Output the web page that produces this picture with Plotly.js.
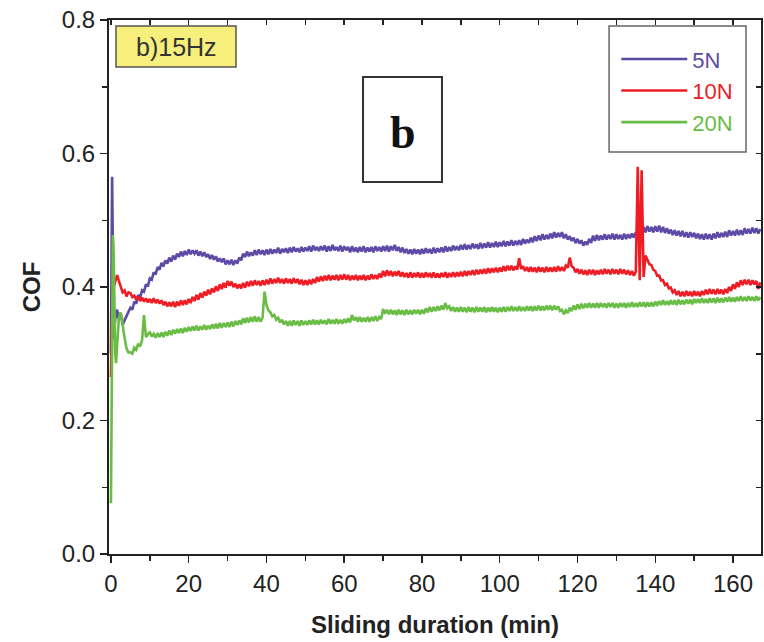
<!DOCTYPE html>
<html>
<head>
<meta charset="utf-8">
<script src="https://cdn.plot.ly/plotly-3.0.1.min.js"></script>
<style>html,body{margin:0;padding:0;background:#fff;}#chart{width:764px;height:642px;}</style>
</head>
<body>
<div id="chart"></div>
<script>
// ---- data ----
const seriesNames = ["5N", "10N", "20N"];
const seriesColors = ["#5d4aa6", "#ee1c25", "#69bd45"];

// running-in (first minutes) sampled finely, per series
const tStart5N = [0,0.15,0.3,0.45,0.6,0.8,1.0,1.3,1.6,2.0,2.5,3.0,3.5,4.0,4.5];
const cofStart5N = [0.300,0.450,0.565,0.480,0.330,0.322,0.345,0.362,0.366,0.352,0.361,0.343,0.350,0.356,0.362];
const tStart10N = [0,0.2,0.4,0.7,1.0,1.3,1.6,2.0,2.5,3,3.5,4,4.5];
const cofStart10N = [0.265,0.330,0.395,0.400,0.405,0.412,0.418,0.410,0.402,0.392,0.395,0.386,0.392];
const tStart20N = [0,0.15,0.3,0.5,0.7,0.9,1.1,1.3,1.6,2.0,2.4,2.8,3.2,3.6,4.0,4.5];
const cofStart20N = [0.076,0.200,0.350,0.478,0.450,0.360,0.300,0.286,0.320,0.350,0.362,0.355,0.335,0.318,0.308,0.302];

// common time grid (min) after running-in
const tGrid = [
 5,5.5,6,6.5,7,7.5,8,8.5,9,9.5, 10,10.5,11,11.5,12,12.5,13,13.5,14,14.5,
 15,15.5,16,16.5,17,17.5,18,18.5,19,19.5, 20,20.5,21,21.5,22,22.5,23,23.5,24,24.5,
 25,25.5,26,26.5,27,27.5,28,28.5,29,29.5, 30,30.5,31,31.5,32,32.5,33,33.5,34,34.5,
 35,35.5,36,36.5,37,37.5,38,38.5,39,39.5, 40,40.5,41,41.5,42,42.5,43,43.5,44,44.5,
 45,45.5,46,46.5,47,47.5,48,48.5,49,49.5, 50,50.5,51,51.5,52,52.5,53,53.5,54,54.5,
 55,55.5,56,56.5,57,57.5,58,58.5,59,59.5, 60,60.5,61,61.5,62,62.5,63,63.5,64,64.5,
 65,65.5,66,66.5,67,67.5,68,68.5,69,69.5, 70,70.5,71,71.5,72,72.5,73,73.5,74,74.5,
 75,75.5,76,76.5,77,77.5,78,78.5,79,79.5, 80,80.5,81,81.5,82,82.5,83,83.5,84,84.5,
 85,85.5,86,86.5,87,87.5,88,88.5,89,89.5, 90,90.5,91,91.5,92,92.5,93,93.5,94,94.5,
 95,95.5,96,96.5,97,97.5,98,98.5,99,99.5, 100,100.5,101,101.5,102,102.5,103,103.5,104,104.5,
 105,105.5,106,106.5,107,107.5,108,108.5,109,109.5, 110,110.5,111,111.5,112,112.5,113,113.5,114,114.5,
 115,115.5,116,116.5,117,117.5,118,118.5,119,119.5, 120,120.5,121,121.5,122,122.5,123,123.5,124,124.5,
 125,125.5,126,126.5,127,127.5,128,128.5,129,129.5, 130,130.5,131,131.5,132,132.5,133,133.5,134,134.5,
 135,135.5,136,136.5,137,137.5,138,138.5,139,139.5, 140,140.5,141,141.5,142,142.5,143,143.5,144,144.5,
 145,145.5,146,146.5,147,147.5,148,148.5,149,149.5, 150,150.5,151,151.5,152,152.5,153,153.5,154,154.5,
 155,155.5,156,156.5,157,157.5,158,158.5,159,159.5, 160,160.5,161,161.5,162,162.5,163,163.5,164,164.5,
 165,165.5,166,166.5,167];

const cof5N = [
 0.369,0.366,0.378,0.375,0.388,0.384,0.395,0.393,0.404,0.401, 0.413,0.411,0.422,0.419,0.430,0.426,0.436,0.431,0.440,0.435,
 0.444,0.438,0.447,0.441,0.450,0.445,0.453,0.446,0.454,0.448, 0.456,0.449,0.455,0.450,0.455,0.447,0.453,0.446,0.452,0.445,
 0.449,0.442,0.448,0.441,0.446,0.438,0.443,0.437,0.443,0.434, 0.440,0.434,0.441,0.433,0.440,0.435,0.444,0.440,0.450,0.445,
 0.453,0.446,0.452,0.447,0.455,0.448,0.456,0.449,0.455,0.448, 0.456,0.449,0.457,0.450,0.456,0.451,0.459,0.450,0.457,0.452,
 0.458,0.451,0.459,0.452,0.460,0.453,0.458,0.452,0.460,0.453, 0.459,0.454,0.461,0.453,0.462,0.455,0.460,0.454,0.461,0.455,
 0.462,0.453,0.461,0.454,0.463,0.455,0.460,0.454,0.462,0.453, 0.461,0.455,0.460,0.452,0.461,0.453,0.459,0.452,0.460,0.453,
 0.461,0.452,0.459,0.453,0.460,0.452,0.461,0.454,0.460,0.453, 0.461,0.454,0.462,0.453,0.461,0.455,0.463,0.454,0.460,0.452,
 0.459,0.451,0.457,0.450,0.456,0.449,0.457,0.450,0.456,0.449, 0.457,0.450,0.458,0.451,0.457,0.450,0.459,0.451,0.458,0.452,
 0.459,0.452,0.461,0.453,0.460,0.454,0.462,0.455,0.461,0.455, 0.463,0.456,0.464,0.456,0.463,0.457,0.465,0.458,0.464,0.457,
 0.466,0.458,0.465,0.459,0.467,0.459,0.466,0.460,0.468,0.460, 0.467,0.461,0.469,0.461,0.468,0.462,0.470,0.462,0.469,0.463,
 0.470,0.463,0.472,0.465,0.471,0.466,0.474,0.467,0.476,0.469, 0.477,0.470,0.479,0.471,0.478,0.472,0.480,0.473,0.482,0.474,
 0.481,0.475,0.482,0.473,0.479,0.471,0.476,0.469,0.474,0.466, 0.472,0.465,0.470,0.462,0.468,0.463,0.472,0.466,0.477,0.469,
 0.478,0.470,0.477,0.471,0.479,0.471,0.478,0.472,0.480,0.471, 0.479,0.472,0.478,0.471,0.480,0.472,0.479,0.473,0.480,0.474,
 0.482,0.476,0.487,0.481,0.490,0.482,0.491,0.483,0.490,0.482, 0.491,0.483,0.492,0.482,0.490,0.481,0.488,0.480,0.486,0.478,
 0.485,0.477,0.484,0.476,0.484,0.475,0.482,0.474,0.482,0.475, 0.481,0.473,0.480,0.472,0.479,0.471,0.480,0.472,0.479,0.471,
 0.480,0.473,0.482,0.474,0.481,0.475,0.483,0.475,0.485,0.477, 0.484,0.477,0.486,0.478,0.485,0.478,0.488,0.480,0.487,0.480,
 0.489,0.481,0.488,0.480,0.487];

const cof10N = [
 0.391,0.385,0.387,0.381,0.386,0.379,0.384,0.378,0.383,0.377, 0.382,0.376,0.383,0.376,0.381,0.375,0.380,0.373,0.378,0.371,
 0.377,0.371,0.378,0.370,0.378,0.372,0.380,0.373,0.380,0.374, 0.382,0.376,0.385,0.379,0.388,0.381,0.391,0.384,0.393,0.387,
 0.396,0.389,0.398,0.392,0.401,0.394,0.404,0.397,0.406,0.399, 0.409,0.402,0.408,0.400,0.405,0.398,0.404,0.398,0.406,0.399,
 0.408,0.401,0.409,0.402,0.410,0.403,0.409,0.402,0.410,0.403, 0.411,0.404,0.413,0.405,0.412,0.406,0.414,0.406,0.412,0.405,
 0.413,0.406,0.412,0.405,0.413,0.406,0.412,0.404,0.411,0.403, 0.410,0.403,0.411,0.404,0.412,0.406,0.415,0.408,0.416,0.409,
 0.417,0.410,0.418,0.410,0.417,0.411,0.418,0.410,0.418,0.411, 0.419,0.411,0.418,0.410,0.417,0.411,0.418,0.410,0.417,0.411,
 0.418,0.410,0.417,0.411,0.419,0.412,0.418,0.412,0.420,0.414, 0.424,0.416,0.425,0.417,0.424,0.416,0.423,0.417,0.424,0.416,
 0.422,0.415,0.421,0.414,0.422,0.414,0.421,0.415,0.422,0.414, 0.421,0.414,0.422,0.415,0.421,0.414,0.422,0.414,0.420,0.414,
 0.421,0.415,0.422,0.414,0.421,0.415,0.422,0.415,0.422,0.416, 0.423,0.416,0.424,0.417,0.424,0.418,0.425,0.418,0.426,0.419,
 0.426,0.420,0.427,0.420,0.428,0.421,0.428,0.422,0.429,0.422, 0.429,0.423,0.431,0.424,0.432,0.425,0.432,0.425,0.431,0.426,
 0.443,0.427,0.431,0.424,0.430,0.423,0.430,0.423,0.429,0.422, 0.430,0.423,0.429,0.422,0.430,0.423,0.429,0.423,0.430,0.423,
 0.431,0.424,0.430,0.424,0.432,0.429,0.444,0.431,0.429,0.422, 0.427,0.420,0.426,0.419,0.425,0.418,0.426,0.419,0.426,0.418,
 0.425,0.419,0.426,0.419,0.427,0.420,0.426,0.419,0.427,0.420, 0.426,0.419,0.427,0.420,0.426,0.419,0.425,0.418,0.424,0.417,
 0.423,0.580,0.410,0.575,0.415,0.447,0.441,0.434,0.433,0.426, 0.424,0.417,0.417,0.410,0.410,0.403,0.405,0.398,0.399,0.392,
 0.395,0.388,0.394,0.386,0.393,0.386,0.394,0.387,0.393,0.386, 0.394,0.387,0.393,0.386,0.394,0.388,0.396,0.389,0.397,0.390,
 0.396,0.389,0.397,0.390,0.396,0.389,0.397,0.391,0.400,0.394, 0.404,0.397,0.407,0.400,0.410,0.403,0.411,0.404,0.411,0.403,
 0.410,0.404,0.409,0.397,0.407];

const cof20N = [
 0.302,0.300,0.309,0.306,0.315,0.311,0.320,0.358,0.325,0.329, 0.333,0.326,0.330,0.324,0.331,0.325,0.332,0.325,0.333,0.327,
 0.335,0.328,0.336,0.330,0.337,0.331,0.338,0.331,0.339,0.333, 0.340,0.334,0.341,0.335,0.342,0.335,0.341,0.336,0.343,0.336,
 0.342,0.337,0.344,0.338,0.345,0.338,0.346,0.339,0.346,0.340, 0.347,0.340,0.348,0.341,0.349,0.343,0.350,0.344,0.353,0.346,
 0.354,0.347,0.355,0.348,0.356,0.348,0.355,0.348,0.354,0.393, 0.373,0.365,0.362,0.356,0.358,0.351,0.354,0.347,0.351,0.344,
 0.349,0.342,0.349,0.342,0.350,0.343,0.349,0.342,0.350,0.343, 0.349,0.343,0.350,0.344,0.351,0.344,0.350,0.344,0.351,0.345,
 0.350,0.344,0.352,0.345,0.351,0.345,0.352,0.345,0.351,0.345, 0.352,0.346,0.353,0.347,0.358,0.350,0.355,0.348,0.355,0.348,
 0.354,0.348,0.355,0.348,0.355,0.349,0.356,0.349,0.355,0.352, 0.367,0.360,0.366,0.359,0.366,0.359,0.365,0.358,0.366,0.359,
 0.365,0.358,0.366,0.359,0.365,0.359,0.366,0.360,0.366,0.359, 0.366,0.360,0.368,0.362,0.370,0.363,0.370,0.364,0.371,0.365,
 0.372,0.366,0.376,0.368,0.371,0.364,0.370,0.363,0.369,0.363, 0.370,0.363,0.369,0.362,0.370,0.363,0.369,0.362,0.370,0.363,
 0.369,0.363,0.370,0.362,0.369,0.363,0.370,0.363,0.369,0.362, 0.369,0.363,0.370,0.363,0.370,0.364,0.371,0.364,0.370,0.364,
 0.371,0.364,0.370,0.364,0.371,0.365,0.371,0.364,0.371,0.365, 0.372,0.365,0.371,0.365,0.372,0.366,0.372,0.365,0.372,0.366,
 0.371,0.364,0.366,0.359,0.365,0.361,0.369,0.364,0.372,0.366, 0.374,0.367,0.375,0.368,0.375,0.369,0.376,0.369,0.375,0.369,
 0.376,0.369,0.376,0.370,0.375,0.369,0.376,0.370,0.376,0.369, 0.375,0.369,0.376,0.370,0.376,0.369,0.376,0.370,0.377,0.370,
 0.376,0.370,0.377,0.371,0.377,0.370,0.377,0.371,0.377,0.371, 0.378,0.372,0.379,0.373,0.380,0.373,0.379,0.373,0.380,0.374,
 0.380,0.373,0.381,0.374,0.380,0.374,0.381,0.375,0.381,0.374, 0.382,0.376,0.382,0.376,0.383,0.376,0.382,0.376,0.383,0.377,
 0.383,0.376,0.384,0.377,0.383,0.377,0.384,0.378,0.385,0.378, 0.384,0.378,0.385,0.379,0.386,0.379,0.385,0.379,0.386,0.380,
 0.385,0.379,0.386,0.380,0.385];

const xTickVals = [0,20,40,60,80,100,120,140,160];
const yTickVals = [0.0,0.2,0.4,0.6,0.8];
const xTitle = "Sliding duration (min)";
const yTitle = "COF";
const panelLabel = "b)15Hz";
const bigLabel = "b";

// ---- traces ----
const xs = [tStart5N.concat(tGrid), tStart10N.concat(tGrid), tStart20N.concat(tGrid)];
const ys = [cofStart5N.concat(cof5N), cofStart10N.concat(cof10N), cofStart20N.concat(cof20N)];
const traces = xs.map((x, i) => ({
  type: "scatter", mode: "lines", x: x, y: ys[i],
  name: '<span style="color:' + seriesColors[i] + '">' + seriesNames[i] + '</span>',
  line: {color: seriesColors[i], width: 2.6},
  showlegend: true
}));
// empty trace that carries the inside tick marks on the top and right frame
traces.push({type: "scatter", mode: "lines", x: [], y: [], xaxis: "x2", yaxis: "y2", showlegend: false, hoverinfo: "skip"});

const FONT = "Arial, 'Liberation Sans', sans-serif";
const xr = [-0.5, 167.2];
const yr = [0, 0.8];

const layout = {
  width: 764, height: 642,
  margin: {l: 109, r: 3, t: 20, b: 88},
  paper_bgcolor: "#fff", plot_bgcolor: "#fff",
  font: {family: FONT, color: "#222", size: 24},
  showlegend: true,
  legend: {
    x: 0.778, y: 0.966, xanchor: "left", yanchor: "top",
    bgcolor: "rgba(0,0,0,0)", borderwidth: 0,
    font: {family: FONT, size: 22},
    itemwidth: 66, tracegroupgap: 0
  },
  xaxis: {
    range: xr, tickvals: xTickVals, ticks: "outside", ticklen: 7, tickwidth: 1.5, tickcolor: "#222",
    showline: true, linecolor: "#222", linewidth: 2, mirror: true, showgrid: false, zeroline: false,
    tickfont: {family: FONT, size: 24, color: "#222"},
    minor: {dtick: 10, tick0: 0, ticks: "outside", ticklen: 5, tickwidth: 1.5, tickcolor: "#222", showgrid: false},
    title: {text: "<b>" + xTitle + "</b>", font: {family: FONT, size: 24, color: "#222"}, standoff: 20}
  },
  yaxis: {
    range: yr, tickvals: yTickVals, tickformat: ".1f", ticks: "outside", ticklen: 7, tickwidth: 1.5, tickcolor: "#222",
    showline: true, linecolor: "#222", linewidth: 2, mirror: true, showgrid: false, zeroline: false,
    tickfont: {family: FONT, size: 24, color: "#222"},
    minor: {dtick: 0.1, tick0: 0, ticks: "outside", ticklen: 5, tickwidth: 1.5, tickcolor: "#222", showgrid: false},
    title: {text: "<b>" + yTitle + "</b>", font: {family: FONT, size: 24, color: "#222"}, standoff: 14}
  },
  xaxis2: {range: xr, overlaying: "x", side: "top", dtick: 10, tick0: 0, ticks: "inside", ticklen: 5, tickwidth: 1.5,
    tickcolor: "#222", showticklabels: false, showline: false, showgrid: false, zeroline: false},
  yaxis2: {range: yr, overlaying: "y", side: "right", dtick: 0.1, tick0: 0, ticks: "inside", ticklen: 5, tickwidth: 1.5,
    tickcolor: "#222", showticklabels: false, showline: false, showgrid: false, zeroline: false},
  shapes: [
    {type: "rect", xref: "paper", yref: "paper", x0: 0.0107, x1: 0.1948, y0: 0.912, y1: 0.9888,
     fillcolor: "#f6ef7c", line: {color: "#555", width: 1.5}, layer: "above"},
    {type: "rect", xref: "paper", yref: "paper", x0: 0.3896, x1: 0.5107, y0: 0.6966, y1: 0.8933,
     fillcolor: "rgba(255,255,255,0)", line: {color: "#333", width: 2}, layer: "above"},
    {type: "rect", xref: "paper", yref: "paper", x0: 0.767, x1: 0.977, y0: 0.7528, y1: 0.9888,
     fillcolor: "rgba(255,255,255,0)", line: {color: "#666", width: 1.5}, layer: "above"}
  ],
  annotations: [
    {text: panelLabel, xref: "paper", yref: "paper", x: 0.1028, y: 0.950, xanchor: "center", yanchor: "middle",
     showarrow: false, font: {family: FONT, size: 25, color: "#333"}},
    {text: "<b>" + bigLabel + "</b>", xref: "paper", yref: "paper", x: 0.4502, y: 0.79, xanchor: "center", yanchor: "middle",
     showarrow: false, font: {family: "'Liberation Serif', 'Times New Roman', serif", size: 46, color: "#111"}}
  ]
};

Plotly.newPlot("chart", traces, layout, {displayModeBar: false, staticPlot: true});
</script>
</body>
</html>
